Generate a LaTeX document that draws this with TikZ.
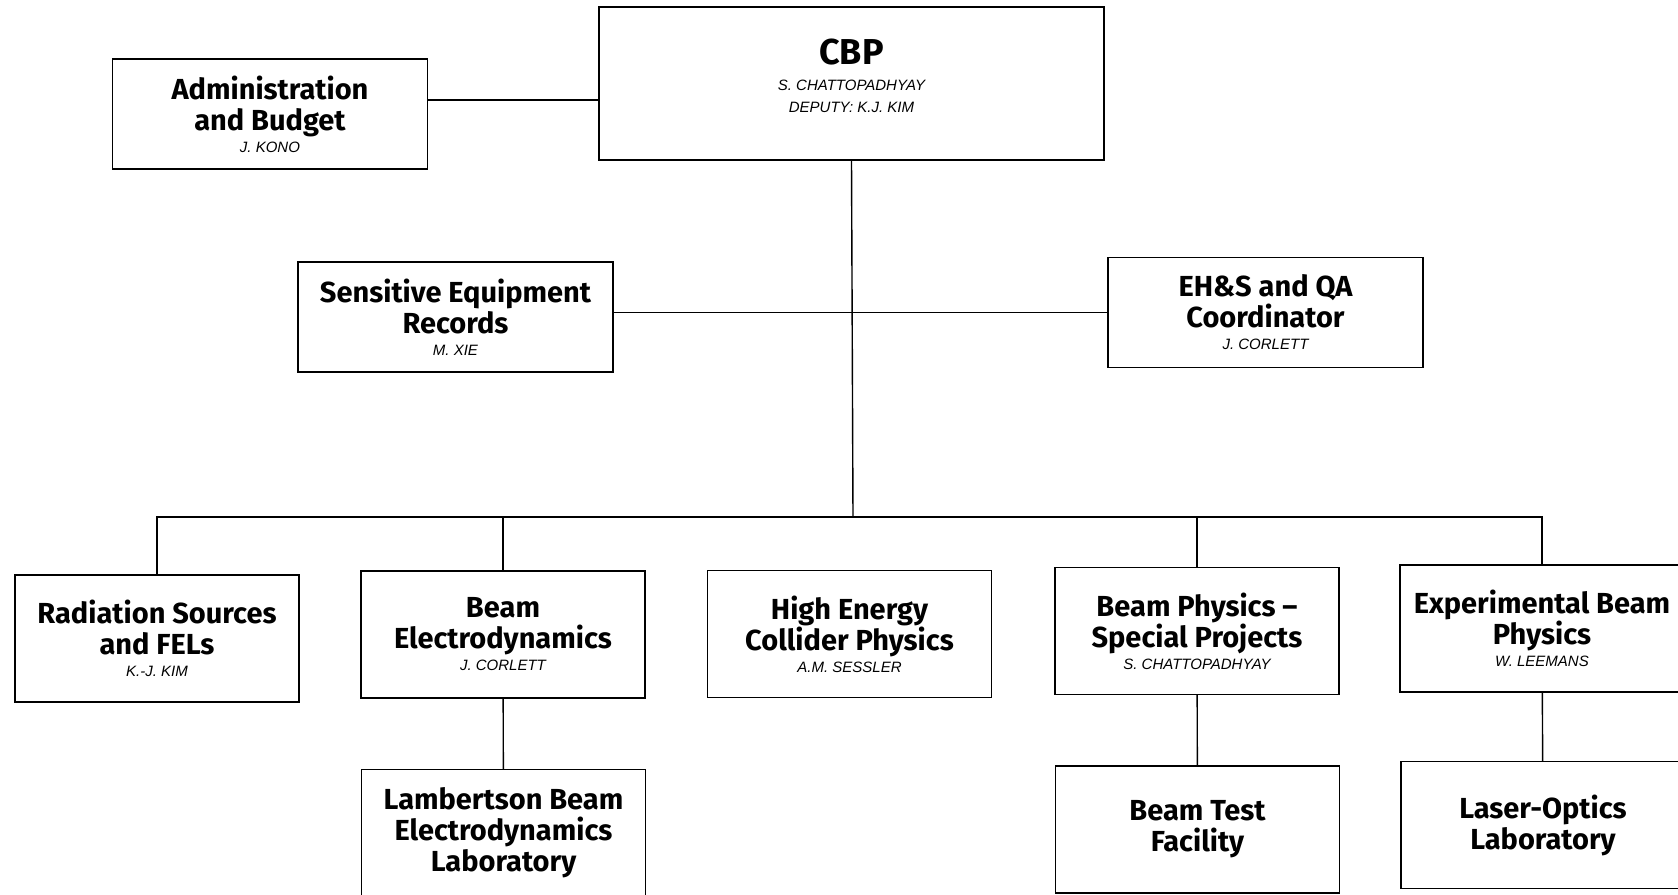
\documentclass[tikz,border=0pt]{standalone}
\usepackage{fontspec}
\setmainfont{Fira Sans}
\newfontfamily\namefont{Liberation Sans}

% name of the person under a box title
\newcommand\who[1]{\\[-4.5pt]{\namefont\mdseries\itshape\fontsize{7.5}{9}\selectfont #1}}

\begin{document}
\begin{tikzpicture}[x=0.5pt, y=-0.5pt,
    dept/.style={draw, line width=0.8pt, minimum width=142pt, minimum height=63.5pt,
        inner sep=0pt, outer sep=0pt, align=center,
        font=\fontsize{14.5}{15.5}\selectfont\bfseries},
    staff/.style={dept, minimum width=157.5pt, minimum height=55pt},
    link/.style={line width=0.7pt}]

    \useasboundingbox (0,0) rectangle (1678,895);
    \clip (0,0) rectangle (1678,895);

    % top of the chart
    \node[dept, line width=1.3pt, minimum width=252.5pt, minimum height=76.5pt] (cbp) at (851.5,83.5)
        {{\fontsize{18}{20}\selectfont CBP}\\[-2.5pt]{\namefont\mdseries\itshape\fontsize{7.5}{9}\selectfont S. CHATTOPADHYAY}\who{DEPUTY: K.J. KIM\rule[-8pt]{0pt}{0pt}}};
    \node[staff] (adm) at (270,114) {Administration\\and Budget\who{J. KONO}};
    \node[staff] (ser) at (455.5,317) {Sensitive Equipment\\Records\who{M. XIE}};
    \node[staff] (ehs) at (1265.5,312.5) {EH\&S and QA\\Coordinator\who{J. CORLETT}};

    % programs
    \node[dept] (rad) at (157,638.5) {Radiation Sources\\and FELs\who{K.-J. KIM}};
    \node[dept] (bed) at (503,634.5) {Beam\\Electrodynamics\who{J. CORLETT}};
    \node[dept] (hec) at (849.5,634) {High Energy\\Collider Physics\who{A.M. SESSLER}};
    \node[dept] (bps) at (1197,631) {Beam Physics --\\Special Projects\who{S. CHATTOPADHYAY}};
    \node[dept] (ebp) at (1542,628.5) {Experimental Beam\\Physics\who{W. LEEMANS}};

    % laboratories
    \node[dept] (lbl) at (503.5,833) {Lambertson Beam\\Electrodynamics\\Laboratory};
    \node[dept] (btf) at (1197.5,829.5) {Beam Test\\Facility};
    \node[dept] (lol) at (1543,825) {Laser-Optics\\Laboratory};

    % lines
    \coordinate (bus) at (853,517);
    \draw[link] ([yshift=7pt]adm.east) -- ([yshift=7pt]adm.east -| cbp.west);
    \draw[link] (ehs.west) -- (ehs.west -| ser.east);
    \draw[link] (cbp.south) -- (bus);
    \draw[link] (rad.north) |- (bus) -| (ebp.north);
    \foreach \n in {bed,bps}
        \draw[link] (bus -| \n.north) -- (\n.north);
    \draw[link] (bed) -- (lbl);
    \draw[link] (bps) -- (btf);
    \draw[link] (ebp) -- (lol);
\end{tikzpicture}
\end{document}
